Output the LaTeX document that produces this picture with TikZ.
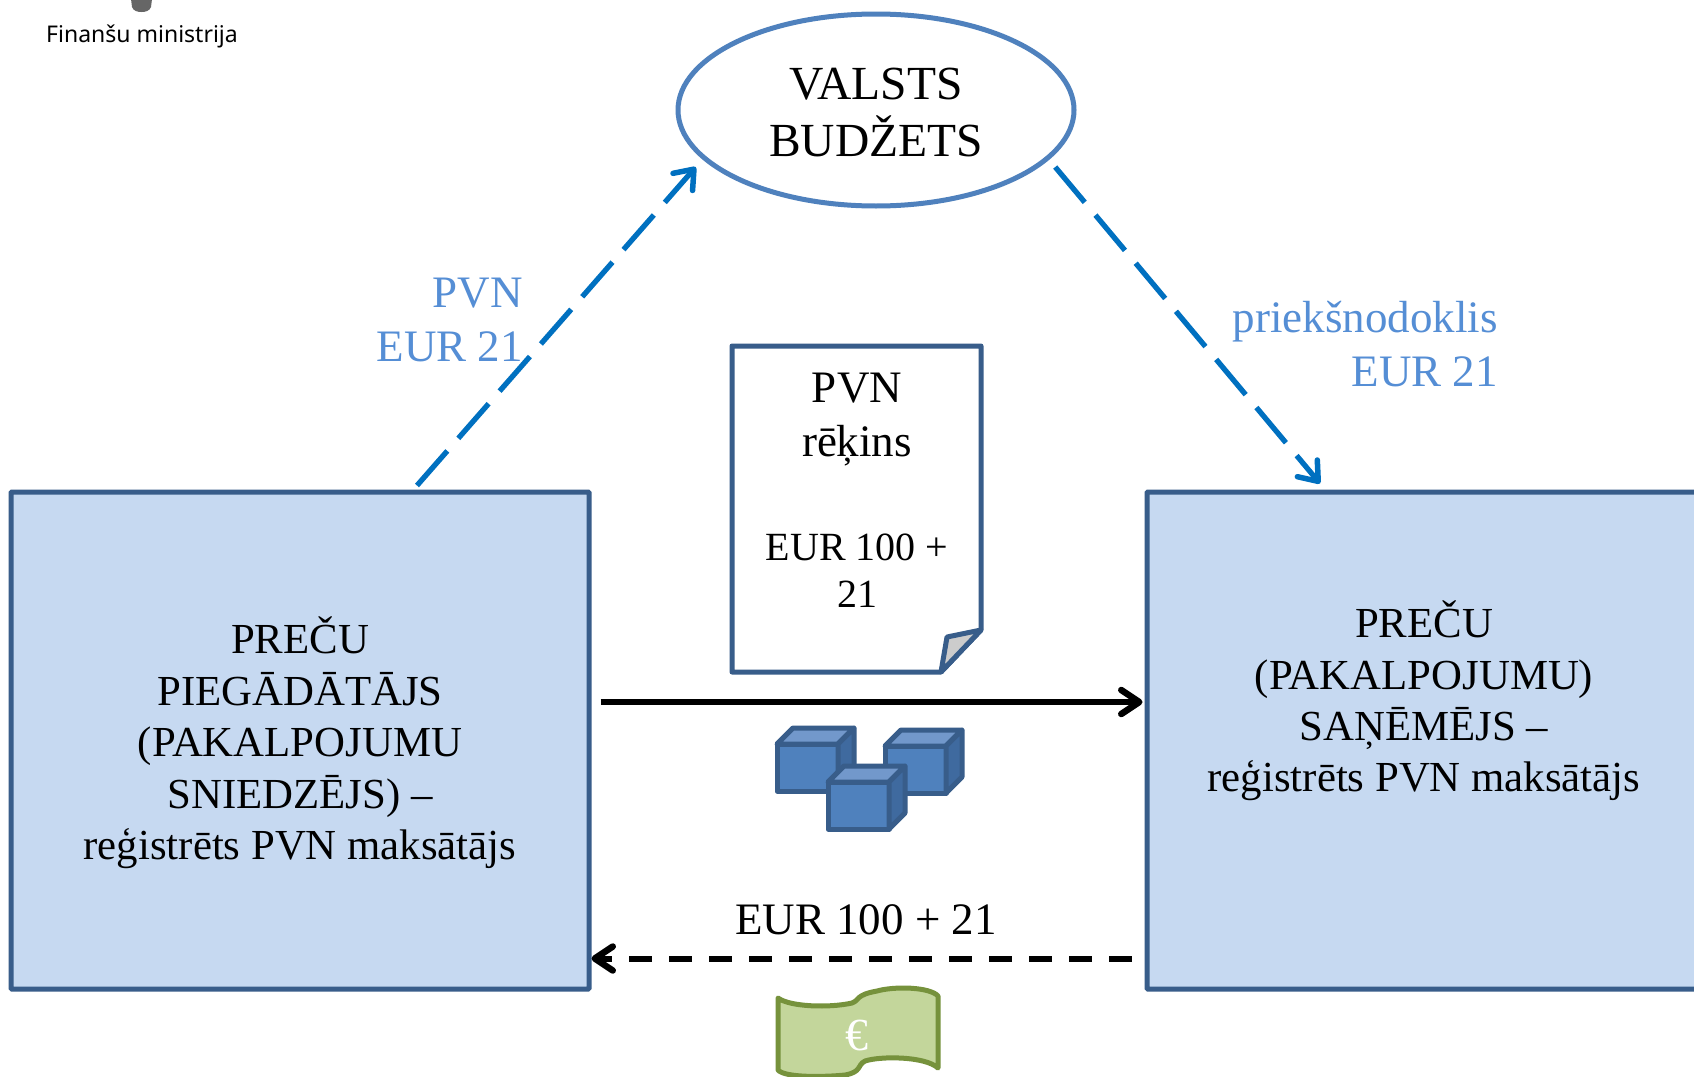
\documentclass[tikz,border=0pt]{standalone}
\usepackage{fontspec}
\setmainfont{Liberation Serif}
\newfontfamily\logofont{Noto Sans}
\usetikzlibrary{shapes.geometric,arrows.meta}
\definecolor{bline}{HTML}{385D8A}
\definecolor{bfill}{HTML}{C6D9F1}
\definecolor{bellipse}{HTML}{4F81BD}
\definecolor{btax}{HTML}{0070C0}
\definecolor{blabel}{HTML}{558ED5}
\definecolor{bfront}{HTML}{4F81BD}
\definecolor{btop}{HTML}{7298CB}
\definecolor{bside}{HTML}{3F6A9F}
\definecolor{gfill}{HTML}{C3D69B}
\definecolor{gline}{HTML}{76923C}
\tikzstyle{party} = [rectangle, draw=bline, fill=bfill, line width=5, inner sep=0, rounded corners=1]
\tikzstyle{partytext} = [align=center, inner sep=0, font=\fontsize{42.8}{51.4}\selectfont]
\tikzstyle{bigtext} = [align=center, inner sep=0, font=\fontsize{45}{55}\selectfont]
\tikzstyle{taxlabel} = [align=right, inner sep=0, text=blabel, font=\fontsize{45}{54}\selectfont]
\tikzstyle{taxarrow} = [draw=btax, line width=5.3, dash pattern=on 46 off 16.7, -{Straight Barb[length=17,width=26,line width=5.5,round]}]
\tikzstyle{goodsarrow} = [draw, line width=5.7, -{Straight Barb[length=18,width=24,line width=6.5,round]}]
\tikzstyle{cashing} = [draw, line width=6, dash pattern=on 23 off 17, -{Straight Barb[length=18,width=24,line width=6.5,round]}]
\tikzstyle{cube} = [draw=bline, line width=5, line join=round]

\begin{document}
\begin{tikzpicture}[x=1pt, y=-1pt]
\clip (0,0) rectangle (1694,1076);
\fill[white] (0,0) rectangle (1694,1076);

%% logo
\fill[gray!80!black] (131,-1) -- (152,-1) -- (151,7) to[out=-110, in=0] (141.5,12) to[out=180, in=-70] (132,7) -- cycle;
\node[inner sep=0] at (142,36) (logo) {\logofont\fontsize{23}{28}\selectfont Finanšu ministrija};

%% state budget
\node[ellipse, draw=bellipse, fill=white, line width=5, minimum width=396, minimum height=192, inner sep=0] at (876,110) (budget) {};
\node[align=center, inner sep=0, font=\fontsize{47.5}{57}\selectfont] at (876,113) (budgettext) {VALSTS\\BUDŽETS};

%% parties
\node[party, minimum width=578, minimum height=497] at (300,740.5) (supplier) {};
\node[partytext] at (300,743) (suppliertext) {PREČU\\PIEGĀDĀTĀJS\\(PAKALPOJUMU\\SNIEDZĒJS) --\\reģistrēts PVN maksātājs};
\node[party, minimum width=554, minimum height=497] at (1424,740.5) (recipient) {};
\node[partytext] at (1424,701) (recipienttext) {PREČU\\(PAKALPOJUMU)\\SAŅĒMĒJS --\\reģistrēts PVN maksātājs};

%% tax flows
\path [taxarrow] ([xshift=117,yshift=4]supplier.north) to ([xshift=-10,yshift=-5]budget.197);
\path [taxarrow] ([xshift=9,yshift=-5]budget.-17) to ([xshift=-104,yshift=6]recipient.north);
\node[taxlabel, anchor=east] at (523,320) (vatlabel) {PVN\\EUR 21};
\node[taxlabel, anchor=east] at (1498,344) (inputlabel) {priekšnodoklis\\EUR 21};

%% invoice
\draw[bline, line width=5, line join=round, fill=white] (732,346) -- (981,346) -- (981,630) -- (941,672) -- (732,672) -- cycle;
\draw[bline, line width=5, line join=round, fill=black!20] (981,630) -- (947,637) -- (941,672) -- cycle;
\node[align=center, inner sep=0, font=\fontsize{45}{54}\selectfont] at (857,419.5) (invoicehead) {PVN\\rēķins};
\node[align=center, inner sep=0, font=\fontsize{40}{47.5}\selectfont] at (857,570.5) (invoiceamount) {EUR 100 +\\21};

%% goods and money
\path [goodsarrow] ([xshift=9,yshift=38.5]supplier.east) to ([xshift=-2,yshift=38.5]recipient.west);
\foreach \cx/\cy in {777/791, 885/793, 828/829}{
\draw[cube, fill=bfront] (\cx,\cy) rectangle ++(61,-47);
\draw[cube, fill=btop] (\cx,\cy-47) -- ++(16,-16) -- ++(61,0) -- ++(-16,16) -- cycle;
\draw[cube, fill=bside] (\cx+61,\cy) -- ++(16,-16) -- ++(0,-47) -- ++(-16,16) -- cycle;
}
\path [cashing] ([xshift=-13,yshift=33]recipient.south west) to ([xshift=0,yshift=33]supplier.south east);
\node[bigtext] at (866,920) (cashlabel) {EUR 100 + 21};
\draw[gline, line width=5, line join=round, fill=gfill] (778,998) .. controls (790,1007) and (830,1008) .. (852,1003) .. controls (860,1000) and (855,995) .. (877,991) .. controls (895,986) and (930,987) .. (938,996) -- (938,1068) .. controls (925,1056) and (880,1056) .. (865,1061) .. controls (857,1065) and (862,1072) .. (845,1075) .. controls (825,1077) and (785,1078) .. (778,1070) -- cycle;
\node[text=white, inner sep=0, font=\fontsize{46}{48}\selectfont] at (857,1035) (euro) {€};
\end{tikzpicture}
\end{document}
